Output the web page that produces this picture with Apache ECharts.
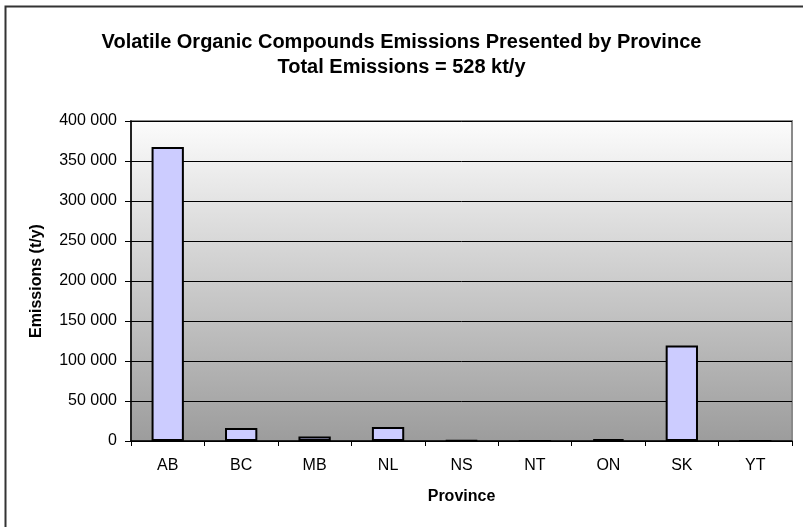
<!DOCTYPE html>
<html>
<head>
<meta charset="utf-8">
<script src="https://cdn.jsdelivr.net/npm/echarts@6/dist/echarts.min.js"></script>
<style>
  html, body { margin: 0; padding: 0; background: #fff; }
  #chart { width: 803px; height: 527px; }
</style>
</head>
<body>
<div id="chart"></div>
<script>
// VOC emissions by province (tonnes per year)
const provinces = ['AB', 'BC', 'MB', 'NL', 'NS', 'NT', 'ON', 'SK', 'YT'];
const emissions = [367500, 16300, 5500, 17500, 800, 0, 2300, 119500, 0];
const yTicks = [0, 50000, 100000, 150000, 200000, 250000, 300000, 350000, 400000];

const titleLines = ['Volatile Organic Compounds Emissions Presented by Province',
                    'Total Emissions = 528 kt/y'];

const fontFamily = '"Liberation Sans", Arial, sans-serif';

// thousands separated by a space
function spaced(v) {
  return String(v).replace(/\B(?=(\d{3})+(?!\d))/g, '\u00a0');
}

const chart = echarts.init(document.getElementById('chart'), null, { renderer: 'canvas' });

chart.setOption({
  backgroundColor: '#ffffff',
  animation: false,
  title: {
    text: titleLines.join('\n'),
    left: 'center',
    top: 25,
    textStyle: {
      fontFamily: fontFamily,
      fontSize: 20,
      fontWeight: 'bold',
      color: '#000',
      lineHeight: 25
    }
  },
  graphic: [
    {
      type: 'rect',
      silent: true,
      shape: { x: 5.5, y: 6.5, width: 820, height: 540 },
      style: { fill: 'none', stroke: '#333', lineWidth: 2 },
      z: 100
    }
  ],
  grid: {
    left: 131,
    top: 121,
    right: 11,
    bottom: 86,
    show: true,
    borderColor: '#8a8a8a',
    borderWidth: 2,
    backgroundColor: new echarts.graphic.LinearGradient(0, 0, 0, 1, [
      { offset: 0, color: '#fcfcfc' },
      { offset: 1, color: '#9c9c9c' }
    ])
  },
  xAxis: {
    type: 'category',
    data: provinces,
    name: 'Province',
    nameLocation: 'middle',
    nameGap: 48,
    nameTextStyle: { fontFamily: fontFamily, fontSize: 16, fontWeight: 'bold', color: '#000' },
    axisLine: { lineStyle: { color: '#000', width: 1.5 } },
    axisTick: { show: true, length: 5, lineStyle: { color: '#000', width: 1 } },
    axisLabel: { fontFamily: fontFamily, fontSize: 16, color: '#000', margin: 17 }
  },
  yAxis: {
    type: 'value',
    min: yTicks[0],
    max: yTicks[yTicks.length - 1],
    interval: yTicks[1] - yTicks[0],
    name: 'Emissions (t/y)',
    nameLocation: 'middle',
    nameGap: 86,
    nameTextStyle: { fontFamily: fontFamily, fontSize: 16, fontWeight: 'bold', color: '#000' },
    axisLine: { show: true, lineStyle: { color: '#000', width: 1.5 } },
    axisTick: { show: true, inside: false, length: 6, lineStyle: { color: '#000' } },
    axisLabel: {
      fontFamily: fontFamily,
      fontSize: 16,
      color: '#000',
      margin: 14,
      formatter: v => spaced(v)
    },
    splitLine: { show: true, lineStyle: { color: '#000', width: 1 } }
  },
  series: [
    {
      type: 'bar',
      data: emissions,
      barWidth: '44%',
      itemStyle: {
        color: '#ccccff',
        borderColor: '#000',
        borderWidth: 2
      }
    }
  ]
});
</script>
</body>
</html>
